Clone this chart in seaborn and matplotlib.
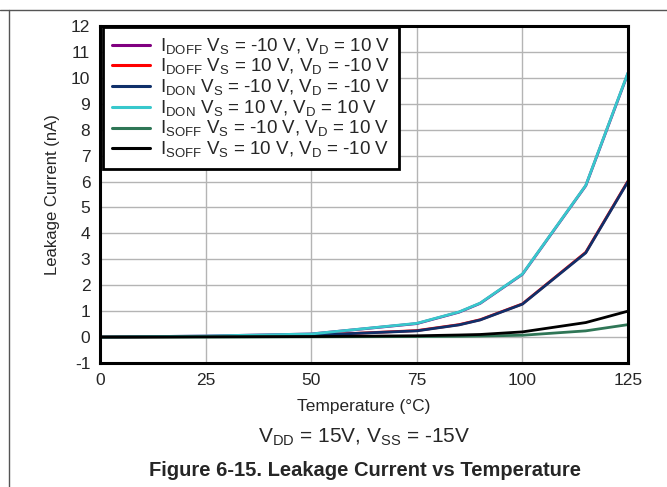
import matplotlib
matplotlib.use("Agg")
import matplotlib.pyplot as plt
from matplotlib.lines import Line2D
import seaborn as sns
import pandas as pd

# ─── DATA ─────────────────────────────────────────────────
temps = [0, 25, 50, 75, 85, 90, 100, 115, 125]

idoff_neg = [0, 0.04, 0.12, 0.52, 0.96, 1.30, 2.42, 5.84, 10.18]
idoff_pos = [0, 0.02, 0.07, 0.25, 0.48, 0.67, 1.28, 3.27, 6.02]
idon_neg = [0, 0.02, 0.07, 0.24, 0.47, 0.66, 1.27, 3.25, 6.00]
idon_pos = [0, 0.04, 0.12, 0.53, 0.97, 1.31, 2.43, 5.85, 10.20]
isoff_neg = [0, 0.00, 0.01, 0.02, 0.03, 0.04, 0.07, 0.24, 0.48]
isoff_pos = [0, 0.01, 0.02, 0.05, 0.08, 0.10, 0.20, 0.56, 1.00]

labels = [
    r"I$_{\mathregular{DOFF}}$ V$_{\mathregular{S}}$ = -10 V, V$_{\mathregular{D}}$ = 10 V",
    r"I$_{\mathregular{DOFF}}$ V$_{\mathregular{S}}$ = 10 V, V$_{\mathregular{D}}$ = -10 V",
    r"I$_{\mathregular{DON}}$ V$_{\mathregular{S}}$ = -10 V, V$_{\mathregular{D}}$ = -10 V",
    r"I$_{\mathregular{DON}}$ V$_{\mathregular{S}}$ = 10 V, V$_{\mathregular{D}}$ = 10 V",
    r"I$_{\mathregular{SOFF}}$ V$_{\mathregular{S}}$ = -10 V, V$_{\mathregular{D}}$ = 10 V",
    r"I$_{\mathregular{SOFF}}$ V$_{\mathregular{S}}$ = 10 V, V$_{\mathregular{D}}$ = -10 V",
]
colors = ["#800080", "#ff0000", "#10306a", "#38c8cc", "#2f7656", "#000000"]
series = [idoff_neg, idoff_pos, idon_neg, idon_pos, isoff_neg, isoff_pos]

rows = []
for lab, vals in zip(labels, series):
    for t, v in zip(temps, vals):
        rows.append({"temp": t, "current": v, "series": lab})
df = pd.DataFrame(rows)

# ─── STYLE ────────────────────────────────────────────────
sns.set_style("white")
plt.rcParams['font.family'] = ['Liberation Sans', 'DejaVu Sans']
plt.rcParams['mathtext.fontset'] = 'custom'
plt.rcParams['mathtext.rm'] = 'Liberation Sans'
plt.rcParams['axes.unicode_minus'] = False

fig = plt.figure(figsize=(6.67, 4.87), dpi=100)
ax = fig.add_axes([100 / 667, 1 - 363 / 487, 528 / 667, 337 / 487])

sns.lineplot(data=df, x="temp", y="current", hue="series",
             palette=dict(zip(labels, colors)), hue_order=labels,
             linewidth=2.0, ax=ax, legend=True)

ax.set_xlim(0, 125)
ax.set_ylim(-1, 12)
ax.set_xticks([0, 25, 50, 75, 100, 125])
ax.set_yticks(range(-1, 13))
ax.grid(True, color="#b4b4b4", linewidth=1.0)
ax.tick_params(length=0, labelsize=12.5, pad=7)
for s in ax.spines.values():
    s.set_color("black")
    s.set_linewidth(2.2)

ax.set_xlabel("Temperature (°C)", fontsize=12.5, labelpad=8)
ax.set_ylabel("Leakage Current (nA)", fontsize=12, labelpad=8)

handles, _ = ax.get_legend_handles_labels()
leg = ax.legend(handles, labels, loc="upper left", bbox_to_anchor=(0.005, 0.997),
                borderaxespad=0, fontsize=13.5, frameon=True, fancybox=False,
                framealpha=1, handlelength=2.0, handletextpad=0.55,
                labelspacing=0.02, borderpad=0.5)
leg.get_frame().set_edgecolor("black")
leg.get_frame().set_linewidth(2.0)
for ln in leg.get_lines():
    ln.set_linewidth(2.2)

fig.text(364 / 667, 1 - 437 / 487,
         r"V$_{\mathregular{DD}}$ = 15V, V$_{\mathregular{SS}}$ = -15V",
         ha="center", va="center", fontsize=15)
fig.text(365 / 667, 1 - 470 / 487,
         "Figure 6-15. Leakage Current vs Temperature",
         ha="center", va="center", fontsize=14.5, fontweight="bold")

# page frame lines
fig.add_artist(Line2D([0, 1], [1 - 10 / 487, 1 - 10 / 487], color="#555555", linewidth=1.0))
fig.add_artist(Line2D([8.5 / 667, 8.5 / 667], [0, 1 - 10 / 487], color="#555555", linewidth=1.0))

fig.savefig("out.png", dpi=100)
